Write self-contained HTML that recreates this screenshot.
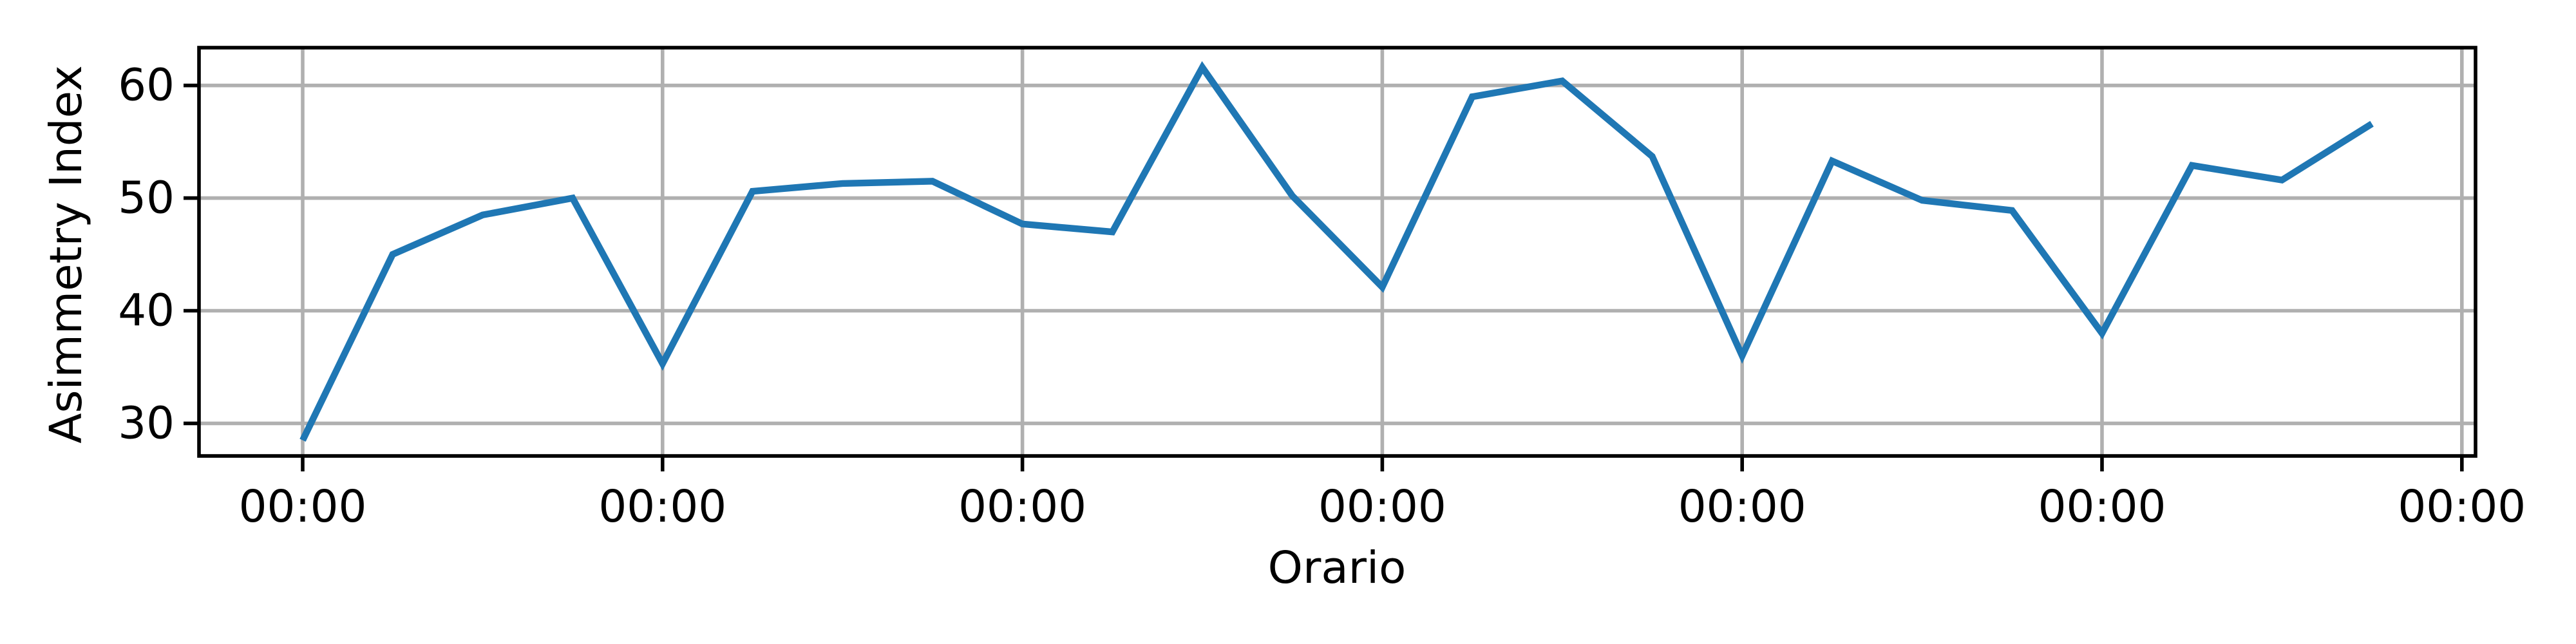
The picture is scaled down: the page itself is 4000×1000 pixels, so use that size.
<!DOCTYPE html>
<html><head><meta charset="utf-8"><style>
html,body{margin:0;padding:0;background:#fff;}
svg{display:block;font-family:"DejaVu Sans","Liberation Sans",sans-serif;}
</style></head><body>
<svg id="chart" width="4000" height="1000" viewBox="0 0 4000 1000">
<g id="grid"></g>
<g id="series"></g>
<g id="axes"></g>
<text x="107" y="395" transform="rotate(-90 107 395)" text-anchor="middle" dominant-baseline="middle" font-size="69">Asimmetry Index</text>
<text x="2076" y="905" text-anchor="middle" font-size="69">Orario</text>
</svg>
<script>
const values = [28.5,45.0,48.5,50.0,35.3,50.6,51.3,51.5,47.7,47.0,61.6,50.2,42.1,59.0,60.4,53.7,36.0,53.3,49.8,48.9,38.0,52.9,51.6,56.6];
const xTickLabels = ["00:00","00:00","00:00","00:00","00:00","00:00","00:00"];
const yTicks = [30,40,50,60];

const NS="http://www.w3.org/2000/svg";
const L=309,R=3844,T=74,B=708;
const x0=470, step=139.7;
function xs(i){return x0+i*step;}
function ys(v){return 132.7+(60-v)*17.49;}
function mk(tag,attrs,parent){const e=document.createElementNS(NS,tag);for(const k in attrs)e.setAttribute(k,attrs[k]);parent.appendChild(e);return e;}
const grid=document.getElementById('grid'),axes=document.getElementById('axes'),series=document.getElementById('series');

yTicks.forEach(v=>{
  const y=ys(v);
  const g=mk('line',{x1:L,x2:R,y1:y,y2:y,stroke:'#b0b0b0','stroke-width':5.6},grid);
  
  
  const t=mk('line',{x1:L-24,x2:L,y1:y,y2:y,stroke:'#000','stroke-width':5.6},axes);
  
  
  const lb=mk('text',{x:L-38,y:y,'text-anchor':'end','dominant-baseline':'central','font-size':69},axes);
  lb.textContent=v;
  
  
});
xTickLabels.forEach((s,k)=>{
  const x=xs(k*4);
  const g=mk('line',{x1:x,x2:x,y1:T,y2:B,stroke:'#b0b0b0','stroke-width':5.6},grid);
  
  
  const t=mk('line',{x1:x,x2:x,y1:B,y2:B+24,stroke:'#000','stroke-width':5.6},axes);
  
  
  const lb=mk('text',{x:x,y:810,'text-anchor':'middle','font-size':69},axes);
  lb.textContent=s;
  
  
});
const frame=mk('rect',{x:L,y:T,width:R-L,height:B-T,fill:'none',stroke:'#000','stroke-width':5.6},axes);



const pts=values.map((v,i)=>xs(i).toFixed(1)+','+ys(v).toFixed(1)).join(' ');
const line=mk('polyline',{points:pts,fill:'none',stroke:'#1f77b4','stroke-width':10.4,'stroke-linejoin':'miter','stroke-linecap':'butt'},series);


</script>
</body></html>
